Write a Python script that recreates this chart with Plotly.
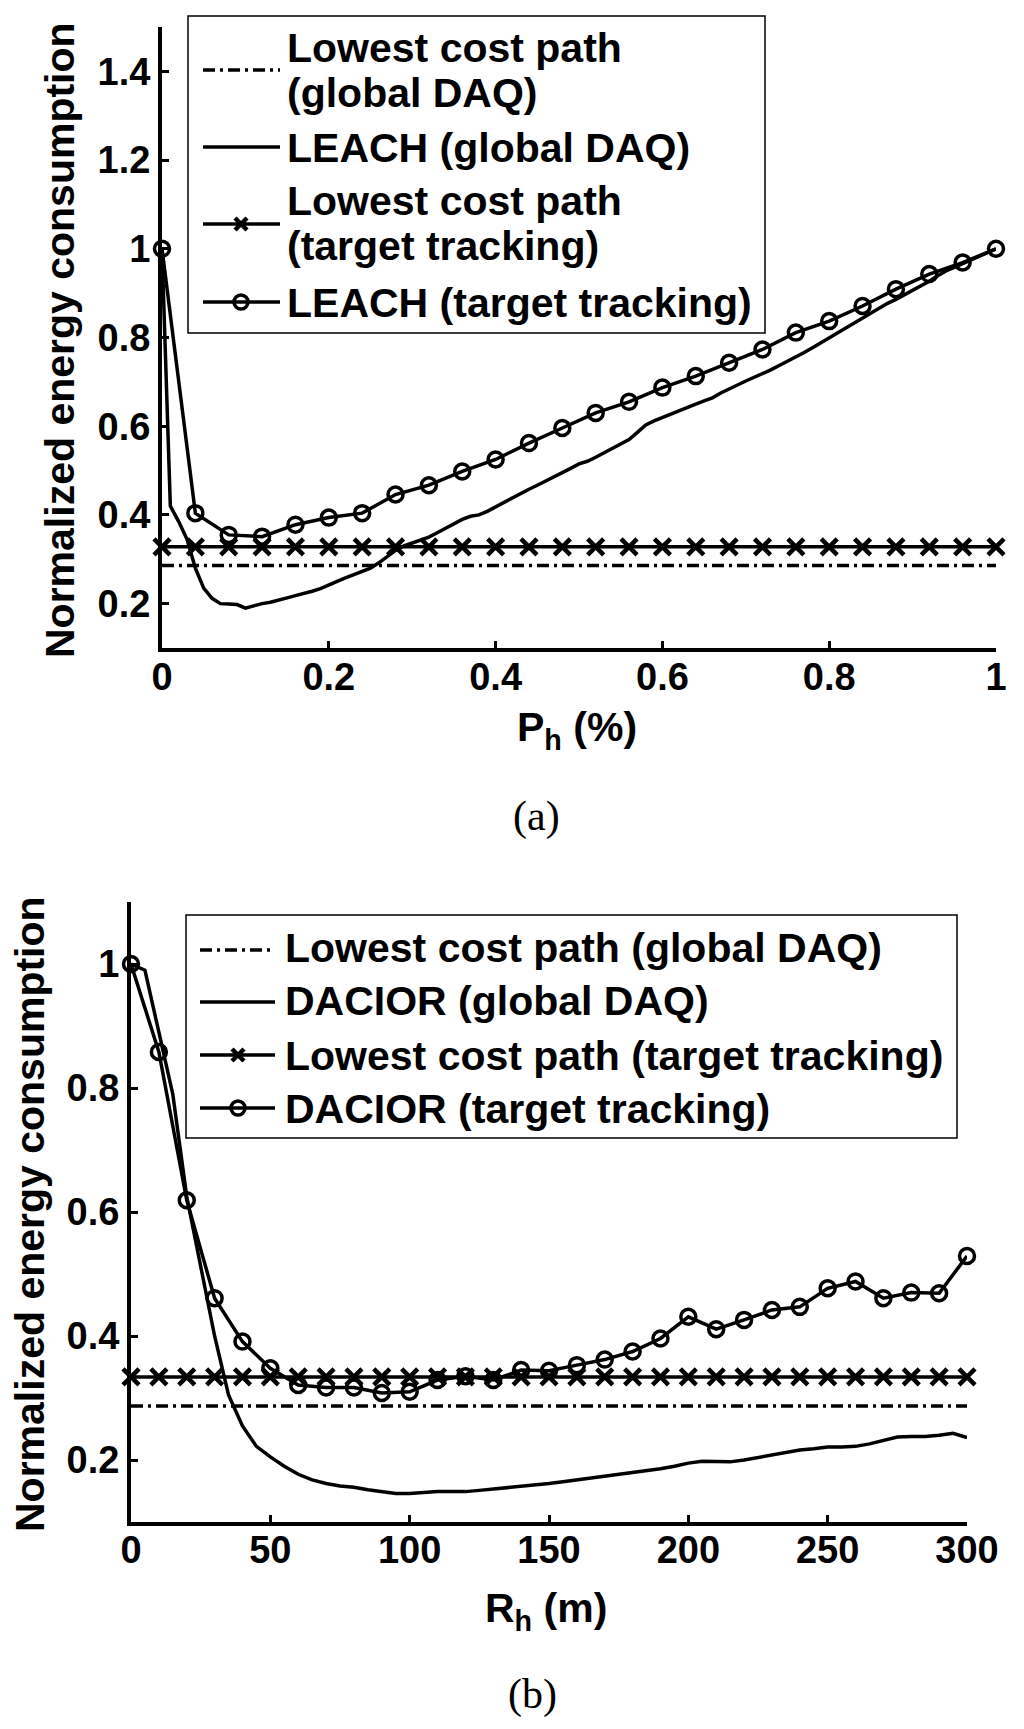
import plotly.graph_objects as go

W, H = 1024, 1729

# ---------------- panel (a) data ----------------
A_XTICKS = [0, 0.2, 0.4, 0.6, 0.8, 1]
A_XTICKTEXT = ["0", "0.2", "0.4", "0.6", "0.8", "1"]
A_YTICKS = [0.2, 0.4, 0.6, 0.8, 1.0, 1.2, 1.4]
A_YTICKTEXT = ["0.2", "0.4", "0.6", "0.8", "1", "1.2", "1.4"]

A_LCP_DAQ_X = [0.0, 1.0]
A_LCP_DAQ = [0.286, 0.286]

A_TRACK_X = [0.00, 0.04, 0.08, 0.12, 0.16, 0.20, 0.24, 0.28, 0.32, 0.36, 0.40, 0.44, 0.48,
             0.52, 0.56, 0.60, 0.64, 0.68, 0.72, 0.76, 0.80, 0.84, 0.88, 0.92, 0.96, 1.00]
A_LCP_TRACK = [0.328] * len(A_TRACK_X)
A_LEACH_TRACK = [1.0, 0.404, 0.355, 0.351, 0.378, 0.394, 0.404, 0.446, 0.467, 0.498, 0.525,
                 0.562, 0.596, 0.630, 0.655, 0.687, 0.713, 0.743, 0.773, 0.811, 0.837, 0.871,
                 0.909, 0.943, 0.969, 1.0]

A_DAQ_X = [round(0.01 * i, 2) for i in range(101)]
A_LEACH_DAQ = [1.0, 0.42, 0.385, 0.345, 0.28, 0.235, 0.212, 0.2, 0.199, 0.198,
               0.19, 0.196, 0.2, 0.203, 0.207, 0.213, 0.218, 0.222, 0.228, 0.234,
               0.243, 0.25, 0.258, 0.266, 0.274, 0.28, 0.292, 0.305, 0.32, 0.33,
               0.337, 0.343, 0.35, 0.36, 0.37, 0.38, 0.39, 0.397, 0.40, 0.408,
               0.418, 0.428, 0.44, 0.45, 0.458, 0.467, 0.476, 0.486, 0.495, 0.505,
               0.515, 0.521, 0.53, 0.54, 0.55, 0.56, 0.57, 0.586, 0.603, 0.612,
               0.62, 0.628, 0.636, 0.644, 0.65, 0.657, 0.664, 0.675, 0.685, 0.693,
               0.702, 0.71, 0.718, 0.727, 0.737, 0.746, 0.755, 0.766, 0.777, 0.788,
               0.799, 0.81, 0.822, 0.833, 0.845, 0.856, 0.867, 0.877, 0.886, 0.896,
               0.905, 0.916, 0.927, 0.939, 0.95, 0.958, 0.966, 0.975, 0.983, 0.992,
               1.0]

A_LABELS = [["Lowest cost path", "(global DAQ)"],
            ["LEACH (global DAQ)"],
            ["Lowest cost path", "(target tracking)"],
            ["LEACH (target tracking)"]]

# ---------------- panel (b) data ----------------
B_XTICKS = [0, 50, 100, 150, 200, 250, 300]
B_XTICKTEXT = ["0", "50", "100", "150", "200", "250", "300"]
B_YTICKS = [0.2, 0.4, 0.6, 0.8, 1.0]
B_YTICKTEXT = ["0.2", "0.4", "0.6", "0.8", "1"]

B_LCP_DAQ_X = [0, 300]
B_LCP_DAQ = [0.287, 0.287]

B_TRACK_X = [0, 10, 20, 30, 40, 50, 60, 70, 80, 90, 100, 110, 120, 130, 140, 150,
             160, 170, 180, 190, 200, 210, 220, 230, 240, 250, 260, 270, 280, 290, 300]
B_LCP_TRACK = [0.334] * len(B_TRACK_X)
B_DACIOR_TRACK = [1.0, 0.858, 0.619, 0.461, 0.391, 0.348, 0.321, 0.317, 0.317, 0.308,
                  0.310, 0.329, 0.335, 0.329, 0.345, 0.344, 0.353, 0.362, 0.375, 0.396,
                  0.431, 0.411, 0.426, 0.442, 0.447, 0.477, 0.488, 0.461, 0.470, 0.469,
                  0.529]

B_DAQ_X = [5 * i for i in range(61)]
B_DACIOR_DAQ = [1.0, 0.99, 0.89, 0.79, 0.625, 0.51, 0.40, 0.305, 0.255, 0.222,
                0.205, 0.19, 0.177, 0.168, 0.162, 0.158, 0.156, 0.152, 0.149, 0.146,
                0.146, 0.148, 0.149, 0.149, 0.149, 0.151, 0.153, 0.156, 0.158, 0.16,
                0.162, 0.165, 0.168, 0.171, 0.174, 0.176, 0.179, 0.182, 0.186, 0.19,
                0.195, 0.198, 0.197, 0.197, 0.2, 0.204, 0.208, 0.212, 0.216, 0.218,
                0.221, 0.221, 0.222, 0.226, 0.232, 0.237, 0.238, 0.238, 0.24, 0.243,
                0.236]

B_LABELS = [["Lowest cost path (global DAQ)"],
            ["DACIOR (global DAQ)"],
            ["Lowest cost path (target tracking)"],
            ["DACIOR (target tracking)"]]

# ---------------- styling ----------------
FONT = "Liberation Sans, Arial, Helvetica, sans-serif"
SERIF = "Liberation Serif, Times New Roman, serif"
BLACK = "#000000"
LW = 3.5
DASHDOT = "12px,5px,3px,5px"
TEXT_SIZE = 41

STYLES = [
    dict(mode="lines", line=dict(color=BLACK, width=LW, dash=DASHDOT)),
    dict(mode="lines", line=dict(color=BLACK, width=LW)),
    dict(mode="lines+markers", line=dict(color=BLACK, width=LW),
         marker=dict(symbol="x-thin", size=16, color=BLACK, line=dict(color=BLACK, width=4.5))),
    dict(mode="lines+markers", line=dict(color=BLACK, width=LW),
         marker=dict(symbol="circle-open", size=15, color=BLACK, line=dict(color=BLACK, width=3.5))),
]


def px(x):
    return x / W


def py(y):
    return 1 - y / H


fig = go.Figure()

A_SERIES = [(A_LCP_DAQ_X, A_LCP_DAQ), (A_DAQ_X, A_LEACH_DAQ),
            (A_TRACK_X, A_LCP_TRACK), (A_TRACK_X, A_LEACH_TRACK)]
B_SERIES = [(B_LCP_DAQ_X, B_LCP_DAQ), (B_DAQ_X, B_DACIOR_DAQ),
            (B_TRACK_X, B_LCP_TRACK), (B_TRACK_X, B_DACIOR_TRACK)]

for (xs, ys), st, lab in zip(A_SERIES, STYLES, A_LABELS):
    fig.add_trace(go.Scatter(x=xs, y=ys, name=" ".join(lab), xaxis="x", yaxis="y",
                             showlegend=False, cliponaxis=False, **st))
for (xs, ys), st, lab in zip(B_SERIES, STYLES, B_LABELS):
    fig.add_trace(go.Scatter(x=xs, y=ys, name=" ".join(lab), xaxis="x2", yaxis="y2",
                             showlegend=False, cliponaxis=False, **st))

tickfont = dict(family=FONT, size=38, color=BLACK, weight="bold")
axis_common = dict(showline=True, linewidth=4, linecolor=BLACK, showgrid=False,
                   zeroline=False, ticks="inside", ticklen=7, tickwidth=3, automargin=False,
                   tickcolor=BLACK, tickfont=tickfont, mirror=False, fixedrange=True)

# plot areas in pixels (left, right, top, bottom)
A_BOX = (162, 996, 27, 648)
B_BOX = (131, 967, 902, 1522)

fig.update_layout(
    template="none",
    width=W, height=H, autosize=False, margin=dict(l=0, r=0, t=0, b=0, pad=0),
    paper_bgcolor="white", plot_bgcolor="white", showlegend=False,
    xaxis=dict(domain=[px(A_BOX[0]), px(A_BOX[1])], range=[0, 1], anchor="y",
               tickvals=A_XTICKS, ticktext=A_XTICKTEXT, ticklabelstandoff=-8, **axis_common),
    yaxis=dict(domain=[py(A_BOX[3]), py(A_BOX[2])], range=[0.1, 1.5], anchor="x",
               tickvals=A_YTICKS, ticktext=A_YTICKTEXT, ticklabelstandoff=0, **axis_common),
    xaxis2=dict(domain=[px(B_BOX[0]), px(B_BOX[1])], range=[0, 300], anchor="y2",
                tickvals=B_XTICKS, ticktext=B_XTICKTEXT, ticklabelstandoff=-9, **axis_common),
    yaxis2=dict(domain=[py(B_BOX[3]), py(B_BOX[2])], range=[0.1, 1.1], anchor="x2",
                tickvals=B_YTICKS, ticktext=B_YTICKTEXT, ticklabelstandoff=0, **axis_common),
)

shapes = []
annotations = []


def add_legend(box, line_x, mark_x, text_x, sym_ys, row_ys, labels):
    x0, x1, y0, y1 = box
    shapes.append(dict(type="rect", xref="paper", yref="paper", x0=px(x0), x1=px(x1),
                       y0=py(y1), y1=py(y0), line=dict(color=BLACK, width=1.5),
                       fillcolor="white", layer="above"))
    for sy, st in zip(sym_ys, STYLES):
        shapes.append(dict(type="line", xref="paper", yref="paper",
                           x0=px(line_x[0]), x1=px(line_x[1]), y0=py(sy), y1=py(sy),
                           line=dict(color=BLACK, width=LW, dash=st["line"].get("dash", "solid")),
                           layer="above"))
        if "marker" in st:
            if st["marker"]["symbol"].startswith("x"):
                r = 6
                for a, b in ((-r, r), (r, -r)):
                    shapes.append(dict(type="line", xref="paper", yref="paper",
                                       x0=px(mark_x - r), x1=px(mark_x + r),
                                       y0=py(sy + a), y1=py(sy + b),
                                       line=dict(color=BLACK, width=4.5), layer="above"))
            else:
                r = 7
                shapes.append(dict(type="circle", xref="paper", yref="paper",
                                   x0=px(mark_x - r), x1=px(mark_x + r), y0=py(sy + r), y1=py(sy - r),
                                   line=dict(color=BLACK, width=3.5), fillcolor="rgba(0,0,0,0)",
                                   layer="above"))
    k = 0
    for lab in labels:
        for line in lab:
            annotations.append(dict(text=line, xref="paper", yref="paper", x=px(text_x),
                                    y=py(row_ys[k]), xanchor="left", yanchor="middle",
                                    showarrow=False,
                                    font=dict(family=FONT, size=TEXT_SIZE, color=BLACK, weight="bold")))
            k += 1


add_legend((188, 765, 16, 333), (203, 280), 241, 285,
           [70, 147, 224, 302], [48, 93, 148, 201, 246, 303], A_LABELS)
add_legend((186, 957, 915, 1138), (200, 275), 238, 283,
           [950, 1002, 1055, 1108], [948, 1001, 1056, 1109], B_LABELS)

ytitle_font = dict(family=FONT, size=TEXT_SIZE, color=BLACK, weight="bold")
annotations += [
    dict(text="Normalized energy consumption", xref="paper", yref="paper", x=px(60), y=py(340),
         textangle=-90, showarrow=False, xanchor="center", yanchor="middle", font=ytitle_font),
    dict(text="Normalized energy consumption", xref="paper", yref="paper", x=px(30), y=py(1214),
         textangle=-90, showarrow=False, xanchor="center", yanchor="middle", font=ytitle_font),
    dict(text="P<sub>h</sub> (%)", xref="paper", yref="paper", x=px(577), y=py(730),
         showarrow=False, xanchor="center", yanchor="middle", font=ytitle_font),
    dict(text="R<sub>h</sub> (m)", xref="paper", yref="paper", x=px(546), y=py(1611),
         showarrow=False, xanchor="center", yanchor="middle", font=ytitle_font),
    dict(text="(a)", xref="paper", yref="paper", x=px(536), y=py(816),
         showarrow=False, xanchor="center", yanchor="middle",
         font=dict(family=SERIF, size=42, color=BLACK)),
    dict(text="(b)", xref="paper", yref="paper", x=px(532), y=py(1694),
         showarrow=False, xanchor="center", yanchor="middle",
         font=dict(family=SERIF, size=42, color=BLACK)),
]

fig.update_layout(shapes=shapes, annotations=annotations)
fig.write_html("out.html", config={"responsive": False, "displayModeBar": False},
               post_script="document.body.style.margin='0';document.body.style.overflow='hidden';")
